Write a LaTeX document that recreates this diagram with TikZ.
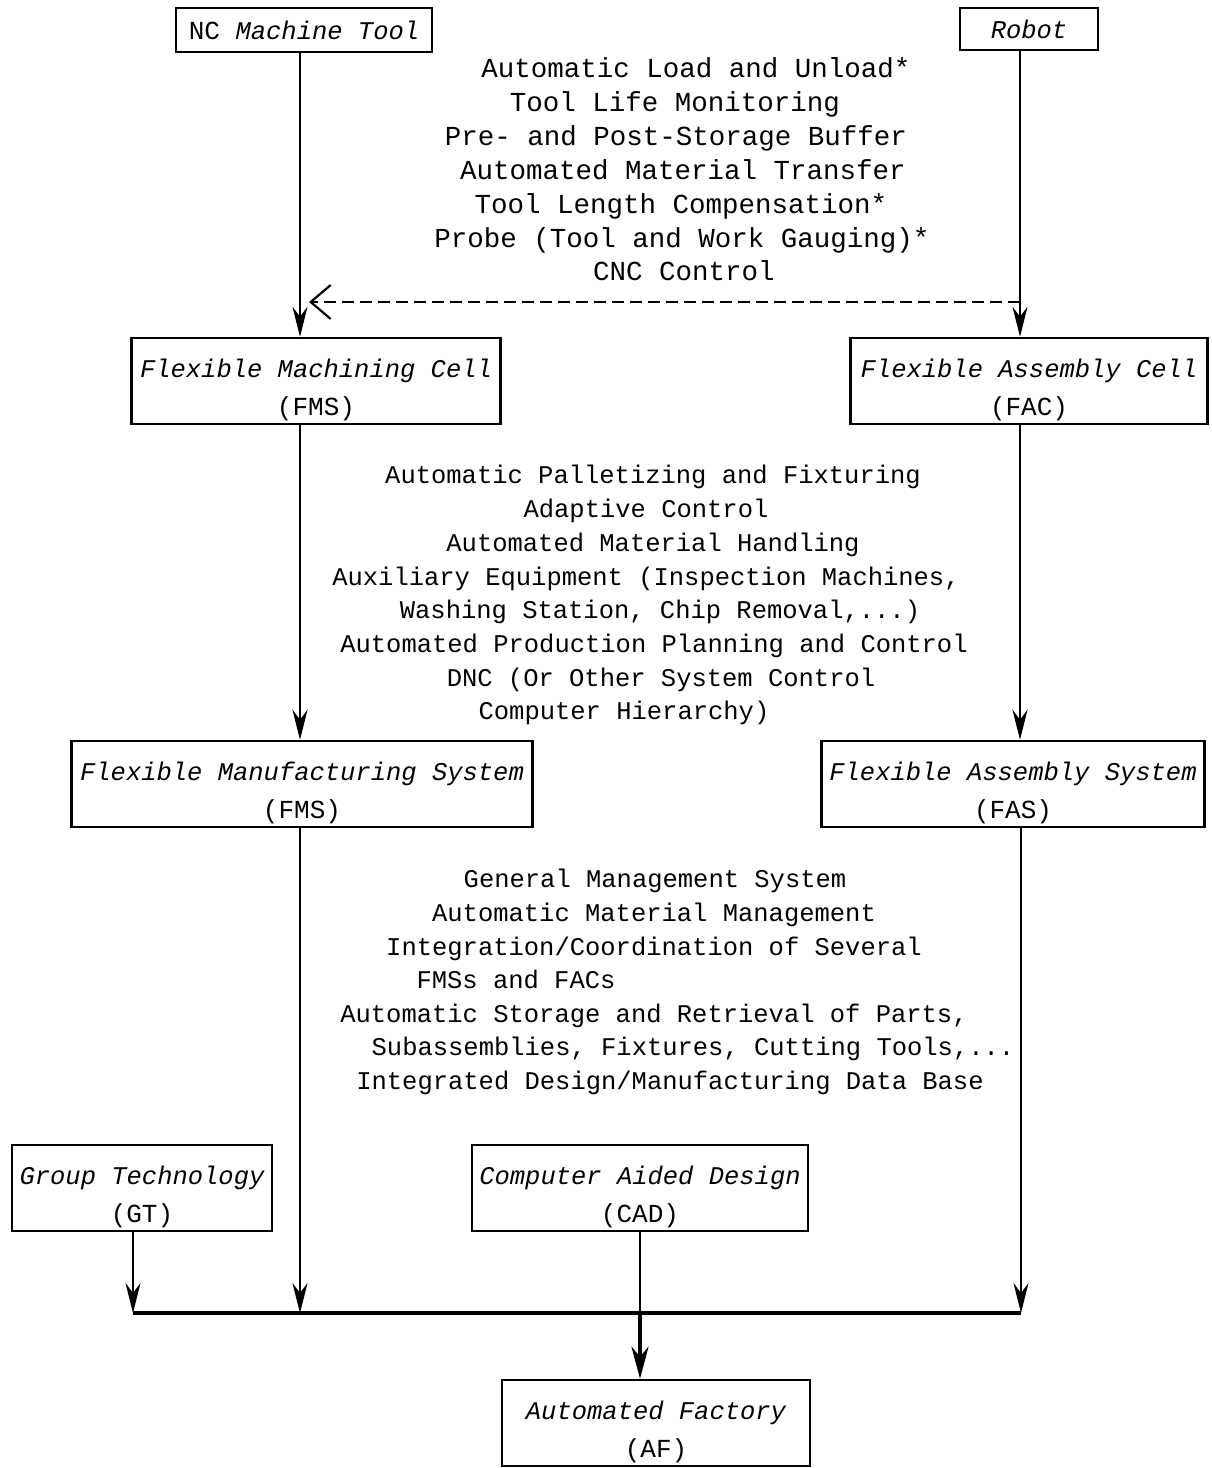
\documentclass[tikz,border=0pt]{standalone}
\usepackage{fontspec}
\setmonofont{Liberation Mono}
\usetikzlibrary{arrows.meta}
\newcommand\ital[1]{{\fontsize{25.5}{38}\selectfont\itshape\rule{0pt}{36pt}#1}}
\tikzset{
  stage/.style={draw,line width=2.5pt,align=center,inner sep=0pt,minimum height=86pt,font=\ttfamily\fontsize{26}{38}\selectfont},
  feature/.style={anchor=base,inner sep=0pt,font=\ttfamily\fontsize{25.5}{34}\selectfont},
  link/.style={line width=2.2pt},
  flow/.style={link,-{Stealth[length=30pt,width=15pt,inset=10pt]}},
}
\begin{document}
\begin{tikzpicture}[x=1pt,y=-1pt]
  \useasboundingbox (0,0) rectangle (1211,1468);
  % stages
  \node[stage,minimum width=256pt,minimum height=44pt] (nc) at (304,30) {NC {\fontsize{25.5}{38}\selectfont\itshape Machine Tool}};
  \node[stage,minimum width=138pt,minimum height=42pt] (robot) at (1029,29) {{\fontsize{25.5}{38}\selectfont\itshape Robot}};
  \node[stage,minimum width=369pt] (fmc) at (316,381) {\ital{Flexible Machining Cell}\\(FMS)};
  \node[stage,minimum width=357pt] (fac) at (1029,381) {\ital{Flexible Assembly Cell}\\(FAC)};
  \node[stage,minimum width=461pt] (fms) at (302,784) {\ital{Flexible Manufacturing System}\\(FMS)};
  \node[stage,minimum width=383pt] (fas) at (1013,784) {\ital{Flexible Assembly System}\\(FAS)};
  \node[stage,minimum width=260pt] (gt) at (142,1188) {\ital{Group Technology}\\(GT)};
  \node[stage,minimum width=336pt] (cad) at (640,1188) {\ital{Computer Aided Design}\\(CAD)};
  \node[stage,minimum width=308pt] (af) at (656,1423) {\ital{Automated Factory}\\(AF)};
  % feature lists
  \foreach \x/\y/\t [count=\i] in {696/68/{Automatic Load and Unload*},675/102/{Tool Life Monitoring},
      676/136/{Pre- and Post-Storage Buffer},683/170/{Automated Material Transfer},
      681/204/{Tool Length Compensation*},682/238/{Probe (Tool and Work Gauging)*},684/271/{CNC Control}}
    \node[feature,font=\ttfamily\fontsize{27.5}{34}\selectfont] (cell-\i) at (\x,\y+9) {\t};
  \foreach \x/\y/\t [count=\i] in {653/474/{Automatic Palletizing and Fixturing},646/508/{Adaptive Control},
      653/542/{Automated Material Handling},646/576/{Auxiliary Equipment (Inspection Machines,},
      660/609/{Washing Station, Chip Removal,...)},654/643/{Automated Production Planning and Control},
      661/677/{DNC (Or Other System Control},624/710/{Computer Hierarchy)}}
    \node[feature] (system-\i) at (\x,\y+9) {\t};
  \foreach \x/\y/\t [count=\i] in {655/878/{General Management System},654/912/{Automatic Material Management},
      654/946/{Integration/Coordination of Several},516/979/{FMSs and FACs},
      654/1013/{Automatic Storage and Retrieval of Parts,},693/1046/{Subassemblies, Fixtures, Cutting Tools,...},
      670/1080/{Integrated Design/Manufacturing Data Base}}
    \node[feature] (factory-\i) at (\x,\y+9) {\t};
  % columns and bus
  \coordinate (lcol) at (300,0);
  \coordinate (rcol) at (1020,0);
  \coordinate (dash-r) at (1020,302);
  \coordinate (dash-l) at (309,302);
  \coordinate (bus-l) at (133,1313);
  \coordinate (bus-m) at (640,1313);
  \coordinate (bus-r) at (1021,1313);
  % connectors
  \draw[flow] (nc.south -| lcol) -- (fmc.north -| lcol);
  \draw[flow] (robot.south -| rcol) -- (fac.north -| rcol);
  \draw[link,dash pattern=on 12pt off 6pt,-{Straight Barb[length=20pt,width=34pt]}] (dash-r) -- (dash-l);
  \draw[flow] (fmc.south -| lcol) -- (fms.north -| lcol);
  \draw[flow] (fac.south -| rcol) -- (fas.north -| rcol);
  \draw[line width=3.5pt] (bus-l) -- (bus-r);
  \draw[flow] (gt.south -| bus-l) -- (bus-l);
  \draw[flow] (fms.south -| lcol) -- (bus-l -| lcol);
  \draw[flow] (fas.south -| bus-r) -- (bus-r);
  \draw[link] (cad.south -| bus-m) -- (bus-m);
  \draw[line width=4.5pt,-{Stealth[length=32pt,width=17pt,inset=10pt]}] (bus-m) -- (af.north -| bus-m);
\end{tikzpicture}
\end{document}
